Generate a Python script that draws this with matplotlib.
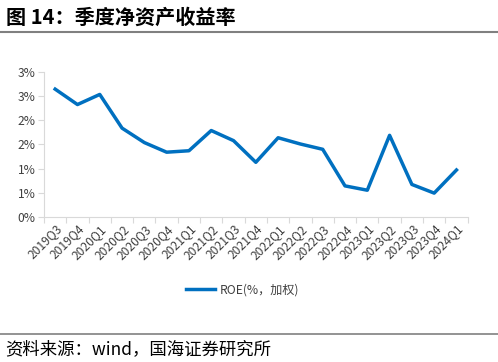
import numpy as np
import matplotlib
matplotlib.use('Agg')
import matplotlib.pyplot as plt
from matplotlib.ticker import FuncFormatter

plt.rcParams['font.family'] = ['Noto Sans CJK SC', 'DejaVu Sans']

quarters = ['2019Q3', '2019Q4', '2020Q1', '2020Q2', '2020Q3', '2020Q4',
            '2021Q1', '2021Q2', '2021Q3', '2021Q4', '2022Q1', '2022Q2',
            '2022Q3', '2022Q4', '2023Q1', '2023Q2', '2023Q3', '2023Q4',
            '2024Q1']
roe = [2.65, 2.33, 2.54, 1.84, 1.54, 1.34, 1.37, 1.79, 1.58, 1.13,
       1.64, 1.51, 1.40, 0.64, 0.55, 1.69, 0.67, 0.49, 0.97]
y_ticks = [0, 0.5, 1.0, 1.5, 2.0, 2.5, 3.0]

title = '图 14：季度净资产收益率'
source = '资料来源：wind，国海证券研究所'
legend_label = 'ROE(%，加权)'

fig = plt.figure(figsize=(4.98, 3.62), dpi=100)
ax = fig.add_axes([0.0884, 0.4014, 0.8506, 0.3989])

x = np.arange(len(quarters))
ax.plot(x, roe, color='#0070C0', lw=2.5, label=legend_label)

ax.set_xlim(-0.5, len(quarters) - 0.5)
ax.set_ylim(0, 3)
ax.set_yticks(y_ticks)
# excel-style rounding: 0.5 -> 1%, 2.5 -> 3%
ax.yaxis.set_major_formatter(FuncFormatter(
    lambda v, p: '%d%%' % int(np.floor(v + 0.5 + 1e-9))))
ax.set_xticks(x)
ax.set_xticklabels(quarters, rotation=45, ha='right', rotation_mode='anchor')
ax.set_xticks(np.arange(-0.5, len(quarters), 1), minor=True)
ax.tick_params(axis='x', which='major', length=0, pad=4,
               labelsize=8.7, labelcolor='#404040')
ax.tick_params(axis='x', which='minor', length=4, color='#d9d9d9', width=0.8)
ax.tick_params(axis='y', length=4, color='#d9d9d9', width=0.8,
               labelsize=8.7, labelcolor='#404040', pad=2)

for s in ['top', 'right']:
    ax.spines[s].set_visible(False)
for s in ['left', 'bottom']:
    ax.spines[s].set_color('#d9d9d9')
    ax.spines[s].set_linewidth(0.8)

leg = fig.legend(loc='center', bbox_to_anchor=(0.487, 1 - 290 / 362),
                 frameon=False, fontsize=8.7, handlelength=2.4,
                 handletextpad=0.4)
for t in leg.get_texts():
    t.set_color('#404040')

fig.text(6 / 498, 1 - 17 / 362, title, fontsize=14.5, fontweight='bold',
         va='center', ha='left', color='black')
fig.add_artist(plt.Line2D([0, 1], [1 - 32 / 362] * 2, color='#808080',
                          lw=1.5, transform=fig.transFigure))
fig.add_artist(plt.Line2D([0, 1], [1 - 334 / 362] * 2, color='#808080',
                          lw=1.2, transform=fig.transFigure))
fig.text(5 / 498, 1 - 349 / 362, source, fontsize=12.5, va='center',
         ha='left', color='black')

fig.savefig('out.png', dpi=100)
